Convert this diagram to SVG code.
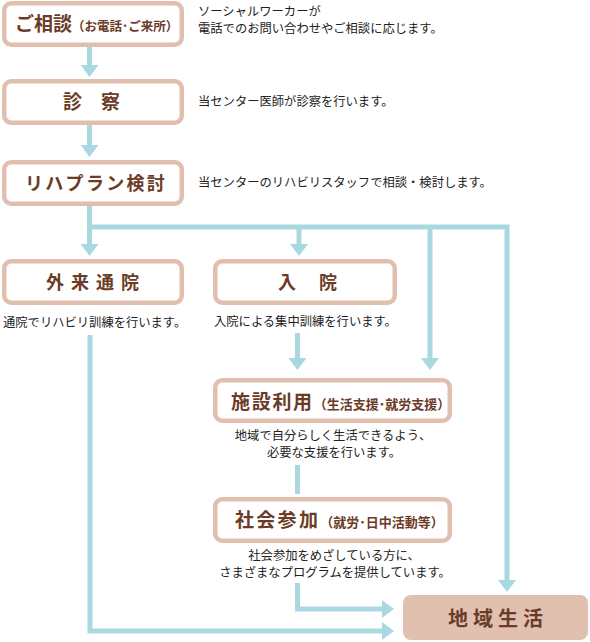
<svg xmlns="http://www.w3.org/2000/svg" width="590" height="642" viewBox="0 0 590 642">
<style>
.box{fill:#fff;stroke:#e0bfae;stroke-width:4.5}
.goal{fill:#e1c0b0;stroke:none}
.ttl{font-family:"Noto Sans CJK JP","Noto Sans",sans-serif;font-weight:bold;fill:#6b3b27}
.sub{font-size:12.5px;letter-spacing:0}
.desc{font-family:"Noto Sans CJK JP","Noto Sans",sans-serif;font-size:12.3px;fill:#222}
.ln{fill:none;stroke:#aad8e1;stroke-width:5;stroke-linejoin:miter}
.ah{fill:#aad8e1}
</style>
<rect width="590" height="642" fill="#fff"/>
<g id="connectors">
  <path class="ln" d="M89.5 47 V66"/>
  <polygon class="ah" points="80.5,65 98.5,65 89.5,77"/>
  <path class="ln" d="M89.5 125 V146"/>
  <polygon class="ah" points="80.5,145 98.5,145 89.5,157"/>
  <path class="ln" d="M89.5 206 V245"/>
  <polygon class="ah" points="80.5,244 98.5,244 89.5,256"/>
  <path class="ln" d="M89.5 227 H507 V581"/>
  <polygon class="ah" points="498,580 516,580 507,592"/>
  <path class="ln" d="M299 227 V245"/>
  <polygon class="ah" points="290,244 308,244 299,256"/>
  <path class="ln" d="M430 227 V359"/>
  <polygon class="ah" points="421,358 439,358 430,370"/>
  <path class="ln" d="M297.5 333 V359"/>
  <polygon class="ah" points="288.5,358 306.5,358 297.5,370"/>
  <path class="ln" d="M297.5 465 V494"/>
  <path class="ln" d="M297.5 583 V609 H383"/>
  <polygon class="ah" points="382,600 382,618 394,609"/>
  <path class="ln" d="M90 335 V631 H383"/>
  <polygon class="ah" points="382,622 382,640 394,631"/>
</g>
<g id="soudan">
  <rect class="box" x="4.25" y="3.25" width="177.5" height="41.5" rx="7"/>
  <text class="ttl" x="15" y="31" font-size="19">ご相談<tspan class="sub">（お電話･ご来所）</tspan></text>
</g>
<text class="desc" x="198" y="16">ソーシャルワーカーが</text>
<text class="desc" x="198" y="33">電話でのお問い合わせやご相談に応じます。</text>
<g id="shinsatsu">
  <rect class="box" x="4.25" y="81.25" width="177.5" height="41.5" rx="7"/>
  <text class="ttl" x="63" y="109" font-size="19">診　察</text>
</g>
<text class="desc" x="198" y="106">当センター医師が診察を行います。</text>
<g id="rehaplan">
  <rect class="box" x="4.25" y="162.25" width="177.5" height="41.5" rx="7"/>
  <text class="ttl" x="25" y="190" font-size="18" letter-spacing="2.3">リハプラン検討</text>
</g>
<text class="desc" x="198" y="187">当センターのリハビリスタッフで相談・検討します。</text>
<g id="gairai">
  <rect class="box" x="4.25" y="261.25" width="177.5" height="41.5" rx="7"/>
  <text class="ttl" x="46" y="289" font-size="18" letter-spacing="7">外来通院</text>
</g>
<text class="desc" x="3" y="327">通院でリハビリ訓練を行います。</text>
<g id="nyuin">
  <rect class="box" x="215.25" y="261.25" width="179.5" height="41.5" rx="7"/>
  <text class="ttl" x="278" y="289" font-size="18" letter-spacing="2.5">入　院</text>
</g>
<text class="desc" x="214" y="326">入院による集中訓練を行います。</text>
<g id="shisetsu">
  <rect class="box" x="215.25" y="380.25" width="234.5" height="40.5" rx="7"/>
  <text class="ttl" x="231" y="409" font-size="19" letter-spacing="1.7">施設利用<tspan class="sub" style="font-size:13px">（生活支援･就労支援）</tspan></text>
</g>
<text class="desc" x="333" y="440" text-anchor="middle">地域で自分らしく生活できるよう、</text>
<text class="desc" x="334" y="457" text-anchor="middle">必要な支援を行います。</text>
<g id="shakai">
  <rect class="box" x="215.25" y="499.25" width="234.5" height="41.5" rx="7"/>
  <text class="ttl" x="235" y="527" font-size="19" letter-spacing="2.3">社会参加<tspan class="sub" style="font-size:13px">（就労･日中活動等）</tspan></text>
</g>
<text class="desc" x="334" y="560" text-anchor="middle">社会参加をめざしている方に、</text>
<text class="desc" x="335" y="577" text-anchor="middle">さまざまなプログラムを提供しています。</text>
<g id="chiiki">
  <rect class="goal" x="403" y="595" width="185" height="45" rx="8"/>
  <text class="ttl" x="448" y="626" font-size="20" letter-spacing="5">地域生活</text>
</g>
</svg>
